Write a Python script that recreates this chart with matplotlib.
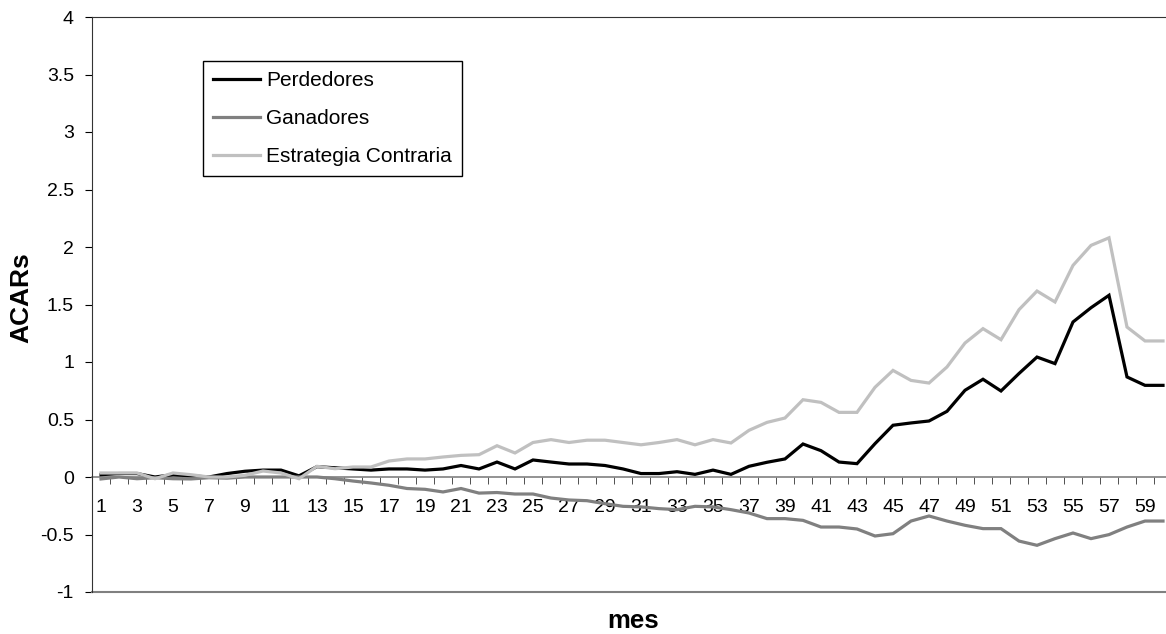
import matplotlib
matplotlib.use("Agg")
import matplotlib.pyplot as plt
import numpy as np

plt.rcParams['font.family'] = ['Liberation Sans', 'DejaVu Sans']

meses = list(range(1, 61))
perdedores = [0.02, 0.03, 0.03, 0.00, 0.02, 0.01, 0.00, 0.03, 0.05, 0.06,
              0.06, 0.01, 0.09, 0.08, 0.07, 0.06, 0.07, 0.07, 0.06, 0.07,
              0.10, 0.07, 0.13, 0.07, 0.148, 0.13, 0.113, 0.113, 0.10, 0.07,
              0.03, 0.03, 0.046, 0.023, 0.06, 0.023, 0.093, 0.128, 0.157, 0.287,
              0.229, 0.13, 0.116, 0.29, 0.45, 0.47, 0.487, 0.571, 0.754, 0.85,
              0.748, 0.90, 1.043, 0.986, 1.348, 1.472, 1.58, 0.87, 0.797, 0.797]
ganadores = [-0.017, 0.0, -0.015, -0.006, -0.015, -0.017, -0.006, -0.01, 0.0, 0.0,
             0.0, 0.0, 0.0, -0.015, -0.035, -0.052, -0.072, -0.10, -0.107, -0.13,
             -0.10, -0.14, -0.135, -0.148, -0.148, -0.183, -0.20, -0.206, -0.232, -0.255,
             -0.26, -0.275, -0.284, -0.255, -0.26, -0.284, -0.313, -0.362, -0.362, -0.377,
             -0.435, -0.435, -0.452, -0.513, -0.493, -0.383, -0.339, -0.383, -0.42, -0.449,
             -0.449, -0.557, -0.594, -0.536, -0.487, -0.536, -0.501, -0.435, -0.383, -0.383]
estrategia = [0.035, 0.035, 0.035, -0.015, 0.035, 0.02, 0.0, 0.0, 0.015, 0.052,
              0.035, -0.015, 0.093, 0.072, 0.087, 0.087, 0.139, 0.157, 0.157, 0.174,
              0.188, 0.194, 0.272, 0.209, 0.30, 0.325, 0.30, 0.32, 0.32, 0.30,
              0.28, 0.30, 0.325, 0.28, 0.325, 0.296, 0.406, 0.475, 0.513, 0.672,
              0.649, 0.562, 0.562, 0.78, 0.927, 0.84, 0.817, 0.957, 1.165, 1.29,
              1.194, 1.455, 1.617, 1.522, 1.84, 2.014, 2.08, 1.304, 1.183, 1.183]

series = [("Perdedores", perdedores, "#000000"),
          ("Ganadores", ganadores, "#808080"),
          ("Estrategia Contraria", estrategia, "#c0c0c0")]

fig = plt.figure(figsize=(11.66, 6.34), dpi=100)
ax = fig.add_axes([92/1166, 1-592/634, 1080/1166, 575/634])

for name, vals, col in series:
    ax.plot(meses, vals, color=col, lw=2.3, label=name, solid_joinstyle='miter', zorder=3)

ax.set_xlim(0.5, 60.5)
ax.set_ylim(-1, 4)
ax.set_yticks(np.arange(-1, 4.01, 0.5))
ax.set_yticklabels([("%g" % v) for v in np.arange(-1, 4.01, 0.5)])

# x axis at y = 0
ax.spines['bottom'].set_position(('data', 0))
ax.spines['bottom'].set_color('#808080')
ax.spines['bottom'].set_linewidth(1.2)
ax.spines['bottom'].set_zorder(2)
ax.axhline(-1, color='#808080', lw=1.5, clip_on=False)
ax.spines['top'].set_color('#333333')
ax.spines['left'].set_color('#333333')
ax.spines['right'].set_visible(False)

ax.set_xticks(meses[::2])
ax.set_xticklabels([str(m) for m in meses[::2]])
ax.set_xticks(np.arange(1.5, 60, 1), minor=True)
ax.tick_params(axis='x', which='major', length=0, pad=16, labelsize=14)
ax.tick_params(axis='x', which='minor', length=5, direction='out', color='#333333')
ax.tick_params(axis='y', length=5, direction='out', labelsize=14, pad=8)

ax.set_ylabel("ACARs", fontsize=19, fontweight='bold')
ax.yaxis.set_label_coords(-(92-34)/1074, (592-298)/575)
fig.text(633/1166, 1-621/634, "mes", fontsize=18.5, fontweight='bold',
         ha='center', va='center')

leg = ax.legend(loc='upper left', bbox_to_anchor=((202-92)/1074, (592-61)/575),
                borderaxespad=0, fancybox=False, edgecolor='black', framealpha=1,
                fontsize=15, handlelength=2.25, handletextpad=0.3, labelspacing=0.9,
                borderpad=0.5)
leg.get_frame().set_linewidth(1.0)

fig.savefig("out.png", dpi=100)
